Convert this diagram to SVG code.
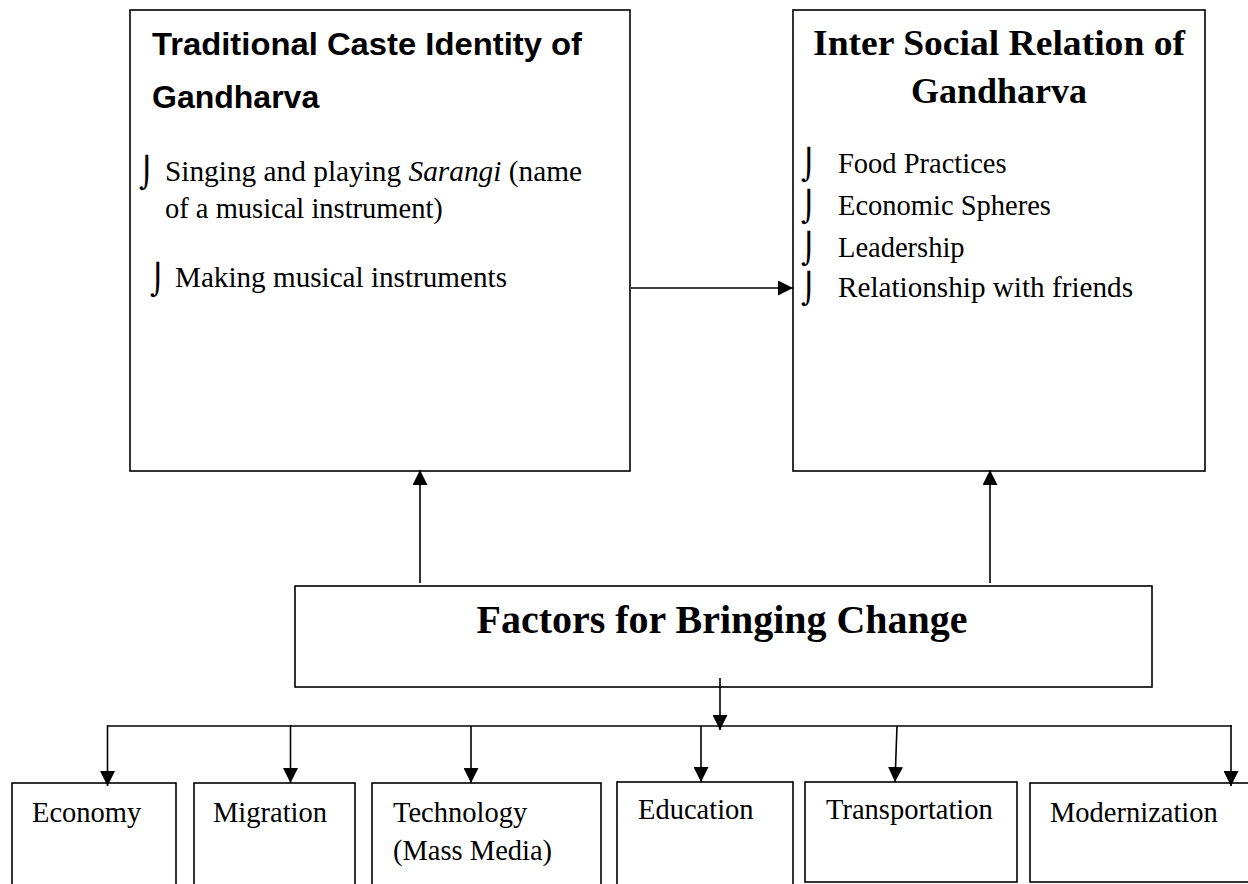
<svg xmlns="http://www.w3.org/2000/svg" width="1248" height="884" viewBox="0 0 1248 884">
<style>
.box{fill:#fff;stroke:#000;stroke-width:1.6}
.ln{fill:none;stroke:#000;stroke-width:1.6}
.body{font-family:"Liberation Serif","Times New Roman",serif;font-size:28.5px;fill:#000}
.ttl{font-family:"Liberation Serif","Times New Roman",serif;font-weight:bold;fill:#000}
.sans{font-family:"Liberation Sans",Arial,sans-serif;font-weight:bold;font-size:32px;fill:#000}
.bul{font-family:"DejaVu Sans",sans-serif;font-size:30px;fill:#000}
</style>
<defs>
<marker id="ah" viewBox="0 0 15 15" refX="15" refY="7.5" markerWidth="15" markerHeight="15" markerUnits="userSpaceOnUse" orient="auto">
<path d="M0,0 L15,7.5 L0,15 z" fill="#000"/>
</marker>
</defs>
<rect width="1248" height="884" fill="#fff"/>

<g id="node-traditional">
<rect class="box" x="130" y="10" width="500" height="461"/>
<text class="sans" x="152" y="55" textLength="430" lengthAdjust="spacingAndGlyphs">Traditional Caste Identity of</text>
<text class="sans" x="152" y="108">Gandharva</text>
<text class="bul" x="139" y="183">⌡</text>
<text class="body" x="165" y="181" textLength="417" lengthAdjust="spacingAndGlyphs">Singing and playing <tspan font-style="italic">Sarangi</tspan> (name</text>
<text class="body" x="165" y="218">of a musical instrument)</text>
<text class="bul" x="150" y="290">⌡</text>
<text class="body" x="175" y="287" textLength="332" lengthAdjust="spacingAndGlyphs">Making musical instruments</text>
</g>

<g id="node-inter-social">
<rect class="box" x="793" y="10" width="412" height="461"/>
<text class="ttl" x="999" y="55" font-size="36" text-anchor="middle" textLength="372" lengthAdjust="spacingAndGlyphs">Inter Social Relation of</text>
<text class="ttl" x="999" y="103" font-size="36" text-anchor="middle">Gandharva</text>
<text class="bul" x="801" y="175">⌡</text>
<text class="body" x="838" y="173">Food Practices</text>
<text class="bul" x="801" y="217">⌡</text>
<text class="body" x="838" y="215">Economic Spheres</text>
<text class="bul" x="801" y="259">⌡</text>
<text class="body" x="838" y="257">Leadership</text>
<text class="bul" x="801" y="299">⌡</text>
<text class="body" x="838" y="297" textLength="295" lengthAdjust="spacingAndGlyphs">Relationship with friends</text>
</g>

<g id="node-factors">
<rect class="box" x="295" y="586" width="857" height="101"/>
<text class="ttl" x="722" y="633" font-size="40" text-anchor="middle" textLength="491" lengthAdjust="spacingAndGlyphs">Factors for Bringing Change</text>
</g>

<g id="node-economy">
<rect class="box" x="12" y="783" width="164" height="120"/>
<text class="body" x="32" y="822">Economy</text>
</g>
<g id="node-migration">
<rect class="box" x="194" y="783" width="161" height="120"/>
<text class="body" x="213" y="822">Migration</text>
</g>
<g id="node-technology">
<rect class="box" x="372" y="783" width="229" height="120"/>
<text class="body" x="393" y="822">Technology</text>
<text class="body" x="393" y="860">(Mass Media)</text>
</g>
<g id="node-education">
<rect class="box" x="617" y="782" width="176" height="120"/>
<text class="body" x="638" y="819">Education</text>
</g>
<g id="node-transportation">
<rect class="box" x="805" y="782" width="212" height="100"/>
<text class="body" x="826" y="819">Transportation</text>
</g>
<g id="node-modernization">
<rect class="box" x="1030" y="783" width="240" height="99"/>
<text class="body" x="1050" y="822">Modernization</text>
</g>

<g id="connectors">
<line class="ln" x1="631" y1="288" x2="793" y2="288" marker-end="url(#ah)"/>
<line class="ln" x1="420" y1="583" x2="420" y2="470" marker-end="url(#ah)"/>
<line class="ln" x1="990" y1="583" x2="990" y2="470" marker-end="url(#ah)"/>
<line class="ln" x1="720" y1="678" x2="720" y2="730" marker-end="url(#ah)"/>
<line class="ln" x1="107.5" y1="726" x2="1232" y2="726"/>
<line class="ln" x1="107.5" y1="725.2" x2="107.5" y2="786" marker-end="url(#ah)"/>
<line class="ln" x1="290.5" y1="725" x2="290.5" y2="783" marker-end="url(#ah)"/>
<line class="ln" x1="471" y1="726" x2="471" y2="783" marker-end="url(#ah)"/>
<line class="ln" x1="701" y1="726" x2="701" y2="782" marker-end="url(#ah)"/>
<line class="ln" x1="897" y1="726" x2="895" y2="782" marker-end="url(#ah)"/>
<line class="ln" x1="1231" y1="725.2" x2="1231" y2="786" marker-end="url(#ah)"/>
</g>
</svg>
